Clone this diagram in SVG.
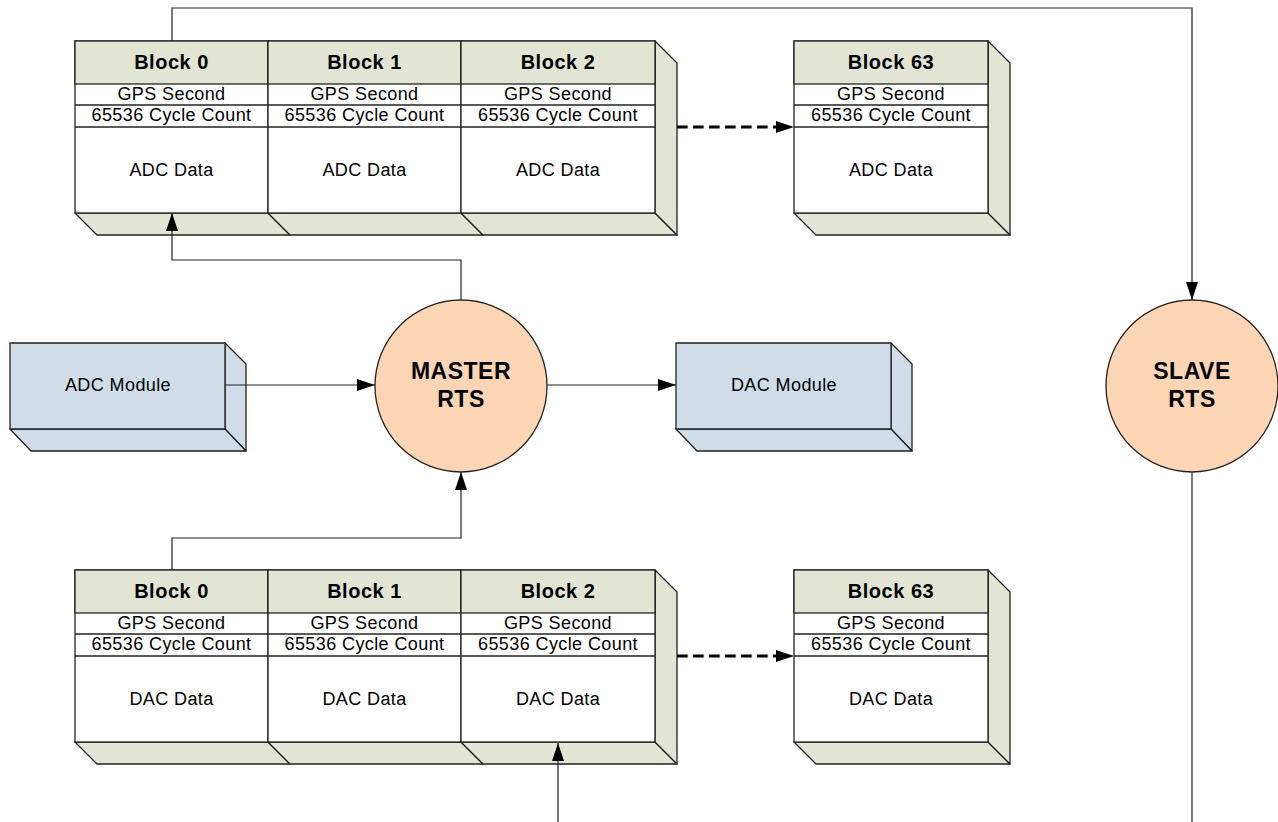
<svg xmlns="http://www.w3.org/2000/svg" width="1278" height="822" viewBox="0 0 1278 822">
<defs>
<marker id="ah" markerUnits="userSpaceOnUse" markerWidth="19" markerHeight="13" refX="18" refY="6" orient="auto" overflow="visible"><path d="M0,0 L18,6 L0,12 Z" fill="#000"/></marker>
<marker id="ahd" markerUnits="userSpaceOnUse" markerWidth="19" markerHeight="13" refX="0" refY="6" orient="auto" overflow="visible"><path d="M0,0 L18,6 L0,12 Z" fill="#000"/></marker>
</defs>
<style>
.face{fill:#fff;stroke:#222;stroke-width:1.3}
.hdr{fill:#e2e4d4;stroke:#222;stroke-width:1.3}
.ln{stroke:#222;stroke-width:1.3;fill:none}
.side{fill:#e2e4d4;stroke:#222;stroke-width:1.3;stroke-linejoin:round}
.mod{fill:#d0dde9;stroke:#222;stroke-width:1.3;stroke-linejoin:round}
.rts{fill:#fcd5b4;stroke:#222;stroke-width:1.3}
.t{font-family:"Liberation Sans",Arial,sans-serif;font-size:18px;text-anchor:middle;fill:#000;letter-spacing:0.4px}
.b{font-family:"Liberation Sans",Arial,sans-serif;font-size:20px;font-weight:bold;text-anchor:middle;fill:#000;letter-spacing:0.5px}
.r{font-family:"Liberation Sans",Arial,sans-serif;font-size:23px;font-weight:bold;text-anchor:middle;fill:#000;letter-spacing:0.5px}
.c{stroke:#222;stroke-width:1.2;fill:none;marker-end:url(#ah)}
.p{stroke:#222;stroke-width:1.2;fill:none}
.d{stroke:#000;stroke-width:3;stroke-dasharray:10.7 5.3;fill:none;marker-end:url(#ahd)}
</style>

<!-- Upper strip (ADC data) -->
<g id="adc-block0" transform="translate(75,41)">
<polygon class="side" points="0,172 193,172 215,194 22,194"/>
<rect class="face" x="0" y="0" width="193" height="172"/>
<rect class="hdr" x="0" y="0" width="193" height="43"/>
<line class="ln" x1="0" y1="64" x2="193" y2="64"/>
<line class="ln" x1="0" y1="86" x2="193" y2="86"/>
<text class="b" x="96.5" y="28">Block 0</text>
<text class="t" x="96.5" y="59">GPS Second</text>
<text class="t" x="96.5" y="80">65536 Cycle Count</text>
<text class="t" x="96.5" y="135">ADC Data</text>
</g>
<g id="adc-block1" transform="translate(268,41)">
<polygon class="side" points="0,172 193,172 215,194 22,194"/>
<rect class="face" x="0" y="0" width="193" height="172"/>
<rect class="hdr" x="0" y="0" width="193" height="43"/>
<line class="ln" x1="0" y1="64" x2="193" y2="64"/>
<line class="ln" x1="0" y1="86" x2="193" y2="86"/>
<text class="b" x="96.5" y="28">Block 1</text>
<text class="t" x="96.5" y="59">GPS Second</text>
<text class="t" x="96.5" y="80">65536 Cycle Count</text>
<text class="t" x="96.5" y="135">ADC Data</text>
</g>
<g id="adc-block2" transform="translate(461,41)">
<polygon class="side" points="0,172 194,172 216,194 22,194"/>
<polygon class="side" points="194,0 216,22 216,194 194,172"/>
<rect class="face" x="0" y="0" width="194" height="172"/>
<rect class="hdr" x="0" y="0" width="194" height="43"/>
<line class="ln" x1="0" y1="64" x2="194" y2="64"/>
<line class="ln" x1="0" y1="86" x2="194" y2="86"/>
<text class="b" x="97" y="28">Block 2</text>
<text class="t" x="97" y="59">GPS Second</text>
<text class="t" x="97" y="80">65536 Cycle Count</text>
<text class="t" x="97" y="135">ADC Data</text>
</g>
<g id="adc-block63" transform="translate(794,41)">
<polygon class="side" points="0,172 194,172 216,194 22,194"/>
<polygon class="side" points="194,0 216,22 216,194 194,172"/>
<rect class="face" x="0" y="0" width="194" height="172"/>
<rect class="hdr" x="0" y="0" width="194" height="43"/>
<line class="ln" x1="0" y1="64" x2="194" y2="64"/>
<line class="ln" x1="0" y1="86" x2="194" y2="86"/>
<text class="b" x="97" y="28">Block 63</text>
<text class="t" x="97" y="59">GPS Second</text>
<text class="t" x="97" y="80">65536 Cycle Count</text>
<text class="t" x="97" y="135">ADC Data</text>
</g>

<!-- Lower strip (DAC data) -->
<g id="dac-block0" transform="translate(75,570)">
<polygon class="side" points="0,172 193,172 215,194 22,194"/>
<rect class="face" x="0" y="0" width="193" height="172"/>
<rect class="hdr" x="0" y="0" width="193" height="43"/>
<line class="ln" x1="0" y1="64" x2="193" y2="64"/>
<line class="ln" x1="0" y1="86" x2="193" y2="86"/>
<text class="b" x="96.5" y="28">Block 0</text>
<text class="t" x="96.5" y="59">GPS Second</text>
<text class="t" x="96.5" y="80">65536 Cycle Count</text>
<text class="t" x="96.5" y="135">DAC Data</text>
</g>
<g id="dac-block1" transform="translate(268,570)">
<polygon class="side" points="0,172 193,172 215,194 22,194"/>
<rect class="face" x="0" y="0" width="193" height="172"/>
<rect class="hdr" x="0" y="0" width="193" height="43"/>
<line class="ln" x1="0" y1="64" x2="193" y2="64"/>
<line class="ln" x1="0" y1="86" x2="193" y2="86"/>
<text class="b" x="96.5" y="28">Block 1</text>
<text class="t" x="96.5" y="59">GPS Second</text>
<text class="t" x="96.5" y="80">65536 Cycle Count</text>
<text class="t" x="96.5" y="135">DAC Data</text>
</g>
<g id="dac-block2" transform="translate(461,570)">
<polygon class="side" points="0,172 194,172 216,194 22,194"/>
<polygon class="side" points="194,0 216,22 216,194 194,172"/>
<rect class="face" x="0" y="0" width="194" height="172"/>
<rect class="hdr" x="0" y="0" width="194" height="43"/>
<line class="ln" x1="0" y1="64" x2="194" y2="64"/>
<line class="ln" x1="0" y1="86" x2="194" y2="86"/>
<text class="b" x="97" y="28">Block 2</text>
<text class="t" x="97" y="59">GPS Second</text>
<text class="t" x="97" y="80">65536 Cycle Count</text>
<text class="t" x="97" y="135">DAC Data</text>
</g>
<g id="dac-block63" transform="translate(794,570)">
<polygon class="side" points="0,172 194,172 216,194 22,194"/>
<polygon class="side" points="194,0 216,22 216,194 194,172"/>
<rect class="face" x="0" y="0" width="194" height="172"/>
<rect class="hdr" x="0" y="0" width="194" height="43"/>
<line class="ln" x1="0" y1="64" x2="194" y2="64"/>
<line class="ln" x1="0" y1="86" x2="194" y2="86"/>
<text class="b" x="97" y="28">Block 63</text>
<text class="t" x="97" y="59">GPS Second</text>
<text class="t" x="97" y="80">65536 Cycle Count</text>
<text class="t" x="97" y="135">DAC Data</text>
</g>

<!-- Modules -->
<g id="adc-module">
<polygon class="mod" points="225,343 246,364 246,451 225,429"/>
<polygon class="mod" points="10,429 225,429 246,451 31,451"/>
<rect class="mod" x="10" y="343" width="215" height="86"/>
<text class="t" x="118" y="391">ADC Module</text>
</g>
<g id="dac-module">
<polygon class="mod" points="891,343 912,364 912,451 891,429"/>
<polygon class="mod" points="676,429 891,429 912,451 697,451"/>
<rect class="mod" x="676" y="343" width="215" height="86"/>
<text class="t" x="784" y="391">DAC Module</text>
</g>

<!-- RTS circles -->
<g id="master-rts">
<circle class="rts" cx="461" cy="386" r="86"/>
<text class="r" x="461" y="379">MASTER</text>
<text class="r" x="461" y="407">RTS</text>
</g>
<g id="slave-rts">
<circle class="rts" cx="1192" cy="386" r="86"/>
<text class="r" x="1192" y="379">SLAVE</text>
<text class="r" x="1192" y="407">RTS</text>
</g>

<!-- Connectors -->
<g id="connectors">
<polyline class="c" points="172,41 172,8 1192,8 1192,300"/>
<polyline class="c" points="461,300 461,260 172,260 172,213"/>
<line class="c" x1="225" y1="385" x2="375" y2="385"/>
<line class="c" x1="547" y1="385" x2="676" y2="385"/>
<polyline class="c" points="172,570 172,538 461,538 461,472"/>
<line class="c" x1="558" y1="822" x2="558" y2="743"/>
<line class="p" x1="1192" y1="472" x2="1192" y2="822"/>
<line class="d" x1="677" y1="127" x2="776" y2="127"/>
<line class="d" x1="677" y1="656" x2="776" y2="656"/>
</g>
</svg>
